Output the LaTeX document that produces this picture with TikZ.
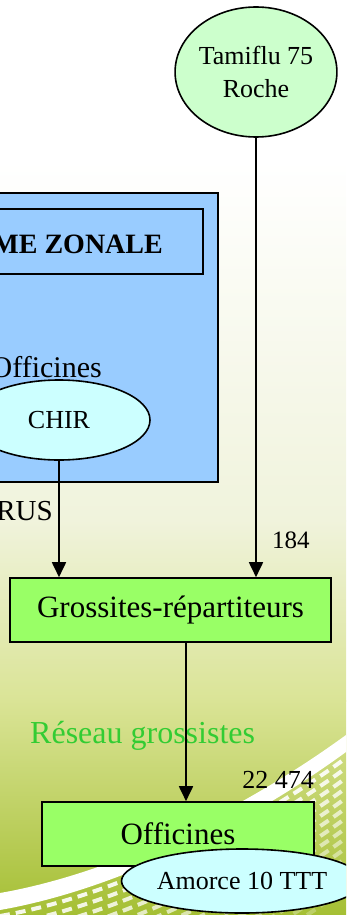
\documentclass[tikz,border=0pt]{standalone}
\usepackage{fontspec}
\setmainfont{Liberation Serif}
\usepackage{tikz}
\usetikzlibrary{shapes,arrows.meta,positioning,calc}

\definecolor{zoneblue}{RGB}{153,204,255}
\definecolor{chircyan}{RGB}{204,255,255}
\definecolor{tamigreen}{RGB}{204,255,204}
\definecolor{boxgreen}{RGB}{153,255,102}
\definecolor{reseaugreen}{RGB}{51,204,51}
\definecolor{bgpale}{RGB}{240,243,220}
\definecolor{bgmid}{RGB}{218,228,150}
\definecolor{bgdark}{RGB}{165,191,52}

\begin{document}
\begin{tikzpicture}[
    x=1pt, y=-1pt,
    panel/.style={rectangle, draw, line width=1.6pt, fill=zoneblue, inner sep=0pt},
    flowbox/.style={rectangle, draw, line width=1.6pt, fill=boxgreen, inner sep=0pt, font=\fontsize{31}{36}\selectfont},
    bubble/.style={ellipse, draw, line width=1.6pt, inner sep=0pt, font=\fontsize{26}{33}\selectfont},
    tag/.style={inner sep=0pt, font=\fontsize{25}{30}\selectfont},
    arrow/.style={-{Triangle[length=15pt,width=14pt]}, line width=1.8pt}
]

\useasboundingbox (0,0) rectangle (346,915);
\clip (0,0) rectangle (346,915);

% slide background
\fill[white] (0,0) rectangle (346,161);
\shade[top color=white, bottom color=bgpale] (0,160) rectangle (346,521);
\shade[top color=bgpale, bottom color=bgmid] (0,520) rectangle (346,701);
\shade[top color=bgmid, bottom color=bgdark] (0,700) rectangle (346,915);

% swoosh with grid
\fill[white] (0,893) .. controls (120,872) and (250,805) .. (346,735) -- (346,752) .. controls (250,822) and (120,889) .. (0,910) -- cycle;
\foreach \k [evaluate=\k as \op using 0.95-0.05*\k] in {1,...,14}
  \draw[white, opacity=\op, line width=4pt, dash pattern=on 10pt off 6pt, yshift=-\k*10pt]
    (0,906) .. controls (120,885) and (250,818) .. (346,748);

% supplier
\node[bubble, fill=tamigreen, minimum width=144pt, minimum height=130pt, align=center] (tamiflu) at (256,72) {Tamiflu 75\\Roche};

% zonal panel
\node[panel, minimum width=240pt, minimum height=289pt] (zone) at (98,337.5) {};
\node[panel, minimum width=225pt, minimum height=65pt] (title) at (90.5,241.5) {};
\node[anchor=base east, inner sep=0pt, font=\fontsize{28}{32}\selectfont\bfseries] (titletext) at (163,253) {ME ZONALE};
\node[anchor=base east, inner sep=0pt, font=\fontsize{30}{34}\selectfont] (zoneoffi) at (102,377) {Officines};
\node[bubble, fill=chircyan, minimum width=182pt, minimum height=80pt] (chir) at (59,420) {CHIR};
\node[tag, anchor=base east, font=\fontsize{29}{34}\selectfont] (rus) at (53,520) {RUS};

% wholesalers and pharmacies
\node[flowbox, minimum width=321pt, minimum height=64pt] (gross) at (170.5,610) {Grossites-répartiteurs};
\node[tag, anchor=base west] (n184) at (272,548) {184};
\node[anchor=base west, inner sep=0pt, text=reseaugreen, font=\fontsize{32}{36}\selectfont] (reseau) at (30,743) {Réseau grossistes};
\node[tag, anchor=base east, font=\fontsize{26}{30}\selectfont] (n22474) at (314,788) {22 474};
\node[flowbox, minimum width=272pt, minimum height=64pt] (offi) at (178,834) {Officines};
\node[bubble, fill=chircyan, minimum width=208pt, minimum height=64pt] (amorce) at (242,881) {Amorce 10 TTT};

% flows
\draw[arrow] (chir.south) -- (chir.south |- gross.north);
\draw[arrow] (tamiflu.south) -- (tamiflu.south |- gross.north);
\draw[arrow] ([xshift=15.5pt]gross.south) -- ([xshift=15.5pt]gross.south |- offi.north);

\end{tikzpicture}
\end{document}
